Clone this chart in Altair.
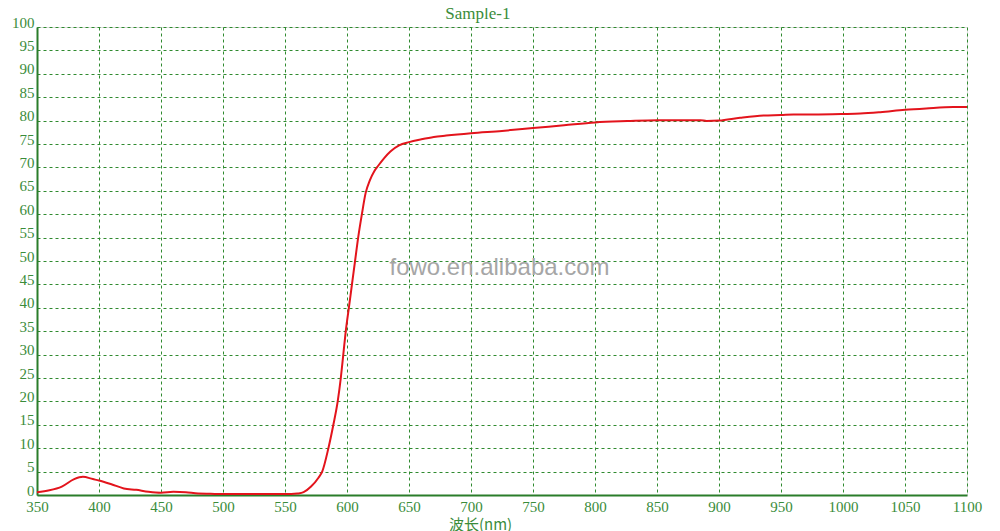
import altair as alt
import pandas as pd

wavelength = [350, 360, 370, 380, 387, 395, 400, 410, 420, 430, 440, 450, 460, 470, 480, 490,
              500, 520, 540, 555, 560, 565, 571, 577, 580, 585, 589, 592.5, 595, 597, 599,
              601.5, 604, 606.5, 609, 612, 615, 618.5, 622, 625, 630, 635, 642, 650, 660,
              670, 680, 700, 725, 750, 775, 800, 826, 850, 870, 885, 890, 900, 917, 936,
              950, 960, 976, 1000, 1014, 1030, 1050, 1067, 1089, 1100]
transmittance = [0.6, 1.0, 1.8, 3.4, 3.9, 3.4, 3.1, 2.3, 1.4, 1.1, 0.7, 0.5, 0.7, 0.6, 0.3, 0.25,
                 0.2, 0.2, 0.2, 0.2, 0.3, 0.6, 1.8, 3.7, 5.0, 10.0, 15.0, 20.0, 25.0, 30.0, 35.0,
                 40.0, 45.0, 50.0, 55.0, 60.0, 64.5, 67.3, 69.2, 70.3, 72.0, 73.4, 74.7, 75.4, 76.0,
                 76.5, 76.8, 77.3, 77.8, 78.4, 79.0, 79.6, 79.9, 80.1, 80.1, 80.1, 79.9, 80.0, 80.6, 81.1,
                 81.2, 81.3, 81.3, 81.4, 81.5, 81.8, 82.3, 82.6, 82.9, 82.9]

x_ticks = [350, 400, 450, 500, 550, 600, 650, 700, 750, 800, 850, 900, 950, 1000, 1050, 1100]
y_ticks = [0, 5, 10, 15, 20, 25, 30, 35, 40, 45, 50, 55, 60, 65, 70, 75, 80, 85, 90, 95, 100]

watermark_text = ["fowo.en.alibaba.com"]
watermark_x = [723]
watermark_y = [48.6]

title_text = ["Sample-1"]
title_x = [705.6]
title_y = [101.7]

GREEN_TEXT = "#3a8c3a"
GREEN_GRID = "#2f8a2f"
GREEN_AXIS = "#2a7d2a"
RED = "#e3141c"

df = pd.DataFrame({"wl": wavelength, "t": transmittance})
wm = pd.DataFrame({"text": watermark_text, "x": watermark_x, "y": watermark_y})
tt = pd.DataFrame({"text": title_text, "x": title_x, "y": title_y})

x_scale = alt.Scale(domain=[350, 1100], nice=False, zero=False)
y_scale = alt.Scale(domain=[0, 100], nice=False)

x_axis = alt.Axis(values=x_ticks, format="d", title="波长(nm)", grid=True, ticks=False,
                  domain=True, domainColor=GREEN_AXIS, domainWidth=2,
                  gridColor=GREEN_GRID, gridDash=[3, 3], gridWidth=1, gridOpacity=1,
                  labelFont="Liberation Serif", labelFontSize=15, labelColor=GREEN_TEXT,
                  labelPadding=4, labelFlush=False, labelOverlap=False,
                  titleFont="Noto Sans CJK SC", titleFontSize=15, titleColor=GREEN_TEXT,
                  titleFontWeight="normal", titleX=443, titleY=29,
                  titleBaseline="middle", titleAnchor="start", titleAlign="center")
y_axis = alt.Axis(values=y_ticks, format="d", title=None, grid=True, ticks=False,
                  domain=True, domainColor=GREEN_AXIS, domainWidth=2,
                  gridColor=GREEN_GRID, gridDash=[3, 3], gridWidth=1, gridOpacity=1,
                  labelFont="Liberation Serif", labelFontSize=15, labelColor=GREEN_TEXT,
                  labelPadding=3, labelOffset=-5, labelFlush=False, labelOverlap=False)

line = alt.Chart(df).mark_line(color=RED, strokeWidth=2, interpolate="monotone").encode(
    x=alt.X("wl:Q", scale=x_scale, axis=x_axis),
    y=alt.Y("t:Q", scale=y_scale, axis=y_axis),
)

mark_wm = alt.Chart(wm).mark_text(font="Liberation Sans", fontSize=24, color="#a6a6a6",
                                  align="center", baseline="middle").encode(
    x=alt.X("x:Q", scale=x_scale, axis=x_axis),
    y=alt.Y("y:Q", scale=y_scale, axis=y_axis),
    text="text:N",
)

mark_title = alt.Chart(tt).mark_text(font="Liberation Serif", fontSize=17, color=GREEN_TEXT,
                                     align="center", baseline="alphabetic", clip=False).encode(
    x=alt.X("x:Q", scale=x_scale, axis=x_axis),
    y=alt.Y("y:Q", scale=y_scale, axis=y_axis),
    text="text:N",
)

chart = alt.layer(line, mark_wm, mark_title).properties(
    width=930,
    height=468,
    padding={"left": 29, "top": 19, "right": 20, "bottom": 36},
    autosize=alt.AutoSizeParams(type="none"),
).configure_view(stroke="#5cb85c", strokeWidth=1.5).configure(background="white")

chart.save("out.html", embed_options={"renderer": "svg", "actions": False})
